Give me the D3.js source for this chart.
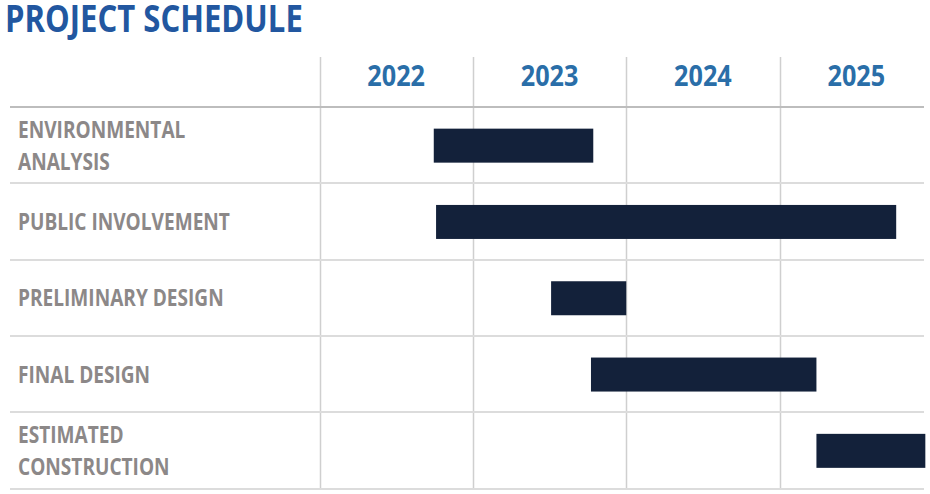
<!DOCTYPE html>
<html lang="en">
<head>
	<meta charset="UTF-8">
	<title>project schedule</title>
	<script src="https://cdn.jsdelivr.net/npm/d3@7"></script>
	<style>
		body { margin: 0; background: #fff; }
		text { font-family: "Open Sans", sans-serif; font-weight: 700; }
	</style>
</head>
<body>
	<script>
	// data
	let tasks = ['ENVIRONMENTAL ANALYSIS', 'PUBLIC INVOLVEMENT', 'PRELIMINARY DESIGN', 'FINAL DESIGN', 'ESTIMATED CONSTRUCTION']
	let labelLines = [
		['ENVIRONMENTAL', 'ANALYSIS'],
		['PUBLIC INVOLVEMENT'],
		['PRELIMINARY DESIGN'],
		['FINAL DESIGN'],
		['ESTIMATED', 'CONSTRUCTION']
	]
	let starts = [2022.745, 2022.76, 2023.51, 2023.77, 2025.24]
	let ends = [2023.785, 2025.76, 2024.0, 2025.24, 2025.95]
	let years = [2022, 2023, 2024, 2025]

	let width = 930,
		height = 494

	let svg = d3.select('body').append('svg')
		.attr('width', width)
		.attr('height', height)

	let x = d3.scaleLinear()
		.domain([2022, 2026])
		.range([319.5, 933])

	let y = d3.scaleBand()
		.domain(tasks)
		.range([107, 488.5])

	let barH = 34

	// squeeze text sideways, fonts here are not condensed
	function condense(sel, k) {
		sel.each(function () {
			let t = d3.select(this)
			let tx = +t.attr('x'), ty = +t.attr('y')
			t.attr('transform', `translate(${tx},${ty}) scale(${k},1) translate(${-tx},${-ty})`)
		})
	}

	// title
	svg.append('text')
		.attr('x', 5)
		.attr('y', 32)
		.attr('font-size', 37)
		.attr('fill', '#2257a0')
		.text('PROJECT SCHEDULE')
		.call(condense, 0.84)

	// vertical grid
	svg.append('g')
		.selectAll('line')
		.data(years)
		.enter()
		.append('line')
		.attr('x1', d => Math.round(x(d)) + 0.5)
		.attr('x2', d => Math.round(x(d)) + 0.5)
		.attr('y1', 57)
		.attr('y2', 489)
		.attr('stroke', '#cfcfcf')
		.attr('stroke-width', 1.5)

	// horizontal grid
	let rowEdges = tasks.map(d => y(d)).concat([y.range()[1]])
	svg.append('g')
		.selectAll('line')
		.data(rowEdges)
		.enter()
		.append('line')
		.attr('x1', 10)
		.attr('x2', 924)
		.attr('y1', d => Math.round(d))
		.attr('y2', d => Math.round(d))
		.attr('stroke', (d, i) => i == 0 ? '#bdbdbd' : '#dcdcdc')
		.attr('stroke-width', 2)

	// year headers
	svg.append('g')
		.selectAll('text')
		.data(years)
		.enter()
		.append('text')
		.attr('x', d => (x(d) + x(d + 1)) / 2)
		.attr('y', 86)
		.attr('text-anchor', 'middle')
		.attr('font-size', 28)
		.attr('fill', '#2a6ea8')
		.text(d => d)
		.call(condense, 0.9)

	// bars
	svg.append('g')
		.selectAll('rect')
		.data(tasks)
		.enter()
		.append('rect')
		.attr('x', (d, i) => x(starts[i]))
		.attr('y', d => y(d) + (y.bandwidth() - barH) / 2 + 0.5)
		.attr('width', (d, i) => x(ends[i]) - x(starts[i]))
		.attr('height', barH)
		.attr('fill', '#13213a')

	// row labels
	let lineGap = 32
	svg.append('g')
		.selectAll('g')
		.data(tasks)
		.enter()
		.append('g')
		.each(function (d, i) {
			let lines = labelLines[i]
			let mid = y(d) + y.bandwidth() / 2
			let first = mid + 8.5 - (lines.length - 1) * lineGap / 2
			d3.select(this).selectAll('text')
				.data(lines)
				.enter()
				.append('text')
				.attr('x', 18)
				.attr('y', (l, j) => first + j * lineGap)
				.attr('font-size', 24)
				.attr('fill', '#8c8888')
				.text(l => l)
				.call(condense, 0.795)
		})
	</script>
</body>
</html>
